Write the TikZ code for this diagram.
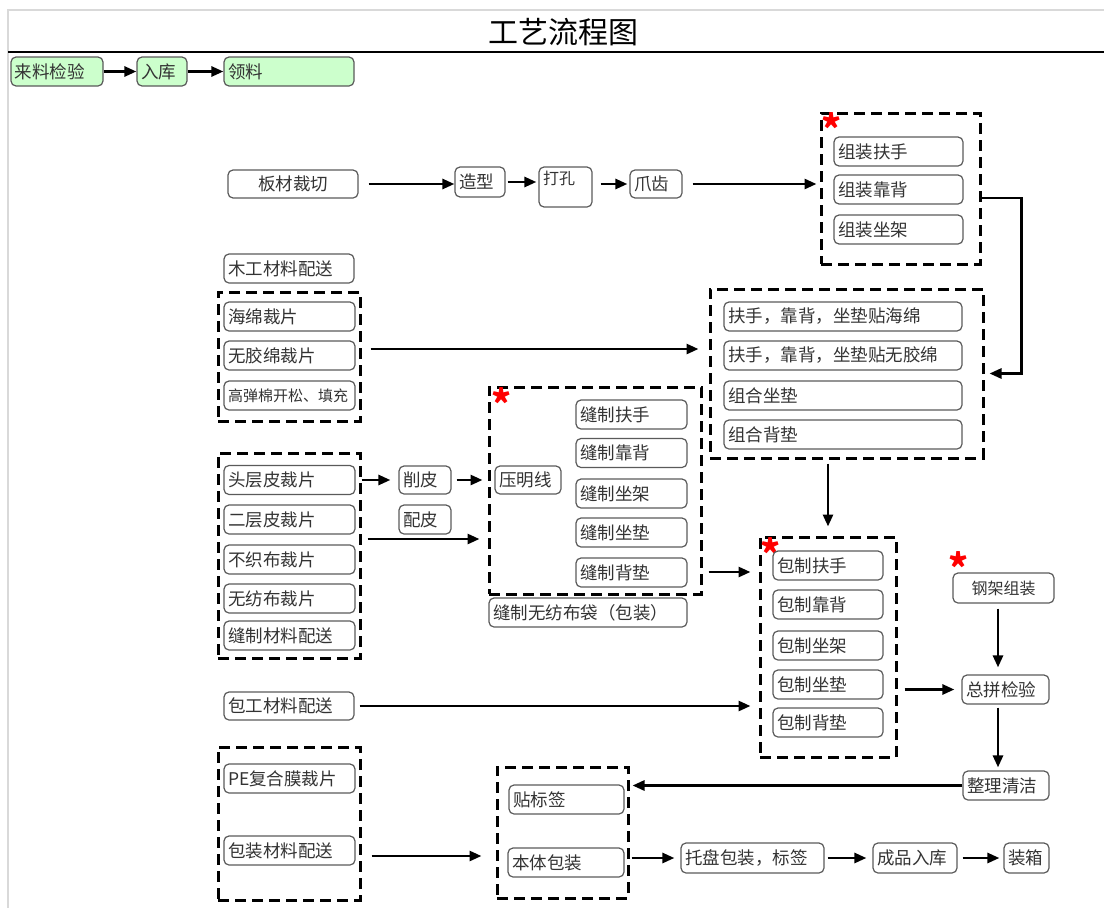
\documentclass[tikz,border=0pt]{standalone}
\usepackage{fontspec}
\newfontfamily\cjk{Noto Sans CJK SC}
\usetikzlibrary{arrows.meta,positioning}
\definecolor{boxgray}{HTML}{5A5A5A}
\definecolor{txtgray}{HTML}{333333}
\definecolor{paleg}{HTML}{CCFFCC}
\tikzstyle{box}=[draw=boxgray,line width=1.2pt,rounded corners=5pt,inner xsep=4pt,inner ysep=0pt,%
  minimum height=29pt,align=left,text=txtgray,font=\cjk\fontsize{17.5}{20}\selectfont]
\tikzstyle{gbox}=[box,fill=paleg]
\tikzstyle{grp}=[draw=black,line width=3pt,dash pattern=on 11pt off 6pt,inner sep=0pt]
\tikzstyle{flow}=[-{Triangle[length=12pt,width=10pt]},line width=2.7pt]
\tikzstyle{redstar}=[text=red,font=\cjk\bfseries\fontsize{38}{38}\selectfont,inner sep=0pt]

\begin{document}
\begin{tikzpicture}[x=1pt,y=-1pt]
    \useasboundingbox (0,0) rectangle (1104,908);

    % frame and title
    \draw [gray!30,line width=1.2pt] (8,908) -- (8,10) -- (1104,10);
    \draw [black,line width=1.3pt] (8,52) -- (1104,52);
    \node [font=\cjk\fontsize{30}{32}\selectfont] (title) at (563,32) {工艺流程图};

    % incoming material
    \node [gbox,text width=84pt] (laoliao) at (57,71.5) {来料检验};
    \node [gbox,text width=42pt] (ruku) at (162,71.5) {入库};
    \node [gbox,text width=122pt] (lingliao) at (289,71.5) {领料};
    \draw [flow] (laoliao) -- (ruku);
    \draw [flow] (ruku) -- (lingliao);

    % board line
    \node [box,text width=122pt,minimum height=28pt,align=center] (bancai) at (293,184) {板材裁切};
    \node [box,text width=42pt,minimum height=30pt] (zaoxing) at (480,182) {造型};
    \node [box,text width=45pt,text height=14pt,text depth=20pt,inner ysep=3pt,%
      font=\cjk\fontsize{16}{18}\selectfont] (dakong) at (565.5,187) {打孔};
    \node [box,text width=44pt,minimum height=28pt] (zhuachi) at (656,184) {爪齿};
    \draw [flow] ([xshift=10pt]bancai.east) -- (zaoxing.west |- bancai.east);
    \draw [flow] ([xshift=2pt]zaoxing.east) -- ([xshift=-2pt]dakong.west |- zaoxing.east);
    \draw [flow] ([xshift=8pt]dakong.east |- zhuachi.west) -- ([xshift=-2pt]zhuachi.west);

    % assembly
    \node [grp,minimum width=159pt,minimum height=151pt] (zz) at (900.5,188.5) {};
    \node [redstar] (st1) at (832,128) {*};
    \foreach \n/\t/\y in {zz1/组装扶手/151.5,zz2/组装靠背/189.5,zz3/组装坐架/229.5}
      \node [box,text width=121pt] (\n) at (898.5,\y) {\t};
    \draw [flow] ([xshift=10pt]zhuachi.east) -- ([xshift=-3pt]zz.west |- zhuachi.east);

    % foam
    \node [box,text width=122pt] (muliao) at (289,268.5) {木工材料配送};
    \node [grp,minimum width=142pt,minimum height=129pt] (hm) at (289,356.5) {};
    \node [box,text width=123pt] (hm1) at (289.5,316.5) {海绵裁片};
    \node [box,text width=123pt] (hm2) at (289.5,355.5) {无胶绵裁片};
    \node [box,text width=123pt,font=\cjk\fontsize{15}{17}\selectfont] (hm3) at (289.5,395.5) {高弹棉开松、填充};

    \node [grp,minimum width=273pt,minimum height=169pt] (tt) at (846.5,373.5) {};
    \foreach \n/\t/\y in {tt1/扶手，靠背，坐垫贴海绵/316.5,tt2/扶手，靠背，坐垫贴无胶绵/355.5,%
      tt3/组合坐垫/395.5,tt4/组合背垫/434.5}
      \node [box,text width=230pt] (\n) at (843,\y) {\t};
    \draw [flow] ([xshift=9pt,yshift=7.5pt]hm.east) -- ([xshift=-10pt,yshift=24.5pt]tt.west);
    \draw [flow] ([yshift=-9.5pt]zz.east) -| ([xshift=37pt]tt.east) -- ([xshift=5pt]tt.east);

    % leather
    \node [grp,minimum width=142pt,minimum height=205pt] (pi) at (289,555.5) {};
    \foreach \n/\t/\y in {pi1/头层皮裁片/480,pi2/二层皮裁片/519.5,pi3/不织布裁片/559.5,%
      pi4/无纺布裁片/598.5,pi5/缝制材料配送/635.5}
      \node [box,text width=123pt] (\n) at (289.5,\y) {\t};
    \node [box,text width=44pt,minimum height=28pt] (xiaopi) at (425,480) {削皮};
    \node [box,text width=44pt] (peipi) at (425,519.5) {配皮};

    % sewing
    \node [grp,minimum width=212pt,minimum height=207pt] (fz) at (595,490.5) {};
    \node [redstar] (st2) at (502,403) {*};
    \node [box,text width=58pt,minimum height=28pt] (yaming) at (528,480) {压明线};
    \foreach \n/\t/\y in {fz1/缝制扶手/414.5,fz2/缝制靠背/453,fz3/缝制坐架/493.5,%
      fz4/缝制坐垫/532.5,fz5/缝制背垫/572.5}
      \node [box,text width=103pt] (\n) at (631.5,\y) {\t};
    \node [box,text width=190pt] (fzbag) at (588,612.5) {缝制无纺布袋（包装）};
    \draw [flow] ([yshift=75.5pt]pi.east) -- ([xshift=-8pt]xiaopi.west);
    \draw [flow] ([xshift=5pt]xiaopi.east) -- ([xshift=-5pt]fz.west |- xiaopi.east);
    \draw [flow] ([xshift=6pt,yshift=16.5pt]pi.east) -- ([xshift=-8pt,yshift=-48.5pt]fz.west);

    % wrapping
    \node [grp,minimum width=136pt,minimum height=220pt] (bz) at (828,647) {};
    \node [redstar] (st3) at (771,553) {*};
    \foreach \n/\t/\y in {bz1/包制扶手/565.5,bz2/包制靠背/604.5,bz3/包制坐架/645.5,%
      bz4/包制坐垫/684.5,bz5/包制背垫/722.5}
      \node [box,text width=102pt] (\n) at (828,\y) {\t};
    \node [box,text width=122pt,minimum height=28pt] (baogong) at (289,706) {包工材料配送};
    \draw [flow] ([yshift=-4pt]tt.south -| bz.north) -- ([yshift=9pt]bz.north);
    \draw [flow] ([xshift=6pt,yshift=-81.5pt]fz.east) -- ([xshift=-8pt,yshift=75pt]bz.west);
    \draw [flow] ([xshift=5pt]baogong.east) -- ([xshift=-8pt]bz.west |- baogong.east);

    % final assembly
    \node [redstar] (st4) at (959,567) {*};
    \node [box,text width=93pt,minimum height=30pt,align=center,%
      font=\cjk\fontsize{16}{18}\selectfont] (gangjia) at (1003.5,588) {钢架组装};
    \node [box,text width=79pt] (zongpin) at (1005.5,689.5) {总拼检验};
    \node [box,text width=78pt] (zhengli) at (1006,785.5) {整理清洁};
    \draw [flow] ([xshift=7pt]bz.east |- zongpin.west) -- ([xshift=-7pt]zongpin.west);
    \draw [flow] ([xshift=-5.5pt,yshift=-5pt]gangjia.south) -- ([xshift=-7.5pt,yshift=7pt]zongpin.north);
    \draw [flow] ([xshift=-7.5pt,yshift=-3pt]zongpin.south) -- ([xshift=-8pt,yshift=3pt]zhengli.north);

    % packing
    \node [grp,minimum width=142pt,minimum height=153pt] (pk) at (289,823.5) {};
    \node [box,text width=123pt] (pe) at (289.5,778.5) {PE复合膜裁片};
    \node [box,text width=123pt] (bzcl) at (289.5,850.5) {包装材料配送};
    \node [grp,minimum width=131pt,minimum height=131pt] (bb) at (562.5,832.5) {};
    \node [box,text width=107pt] (tie) at (566.5,799.5) {贴标签};
    \node [box,text width=108pt] (benti) at (566,862.5) {本体包装};
    \node [box,text width=135pt,minimum height=30pt] (tuopan) at (752.5,858) {托盘包装，标签};
    \node [box,text width=76pt,minimum height=30pt] (chengpin) at (915,858) {成品入库};
    \node [box,text width=37pt,minimum height=30pt] (zhuang) at (1026.5,858) {装箱};
    \draw [flow] (zhengli.west) -- ([xshift=3pt]bb.east |- zhengli.west);
    \draw [flow] ([xshift=10pt,yshift=-32.5pt]pk.east) -- ([xshift=-14pt,yshift=-23.5pt]bb.west);
    \draw [flow] ([xshift=2pt]bb.east |- tuopan.west) -- ([xshift=-6pt]tuopan.west);
    \draw [flow] ([xshift=3pt]tuopan.east) -- ([xshift=-6pt]chengpin.west);
    \draw [flow] ([xshift=5pt]chengpin.east) -- ([xshift=-4pt]zhuang.west);
\end{tikzpicture}
\end{document}
